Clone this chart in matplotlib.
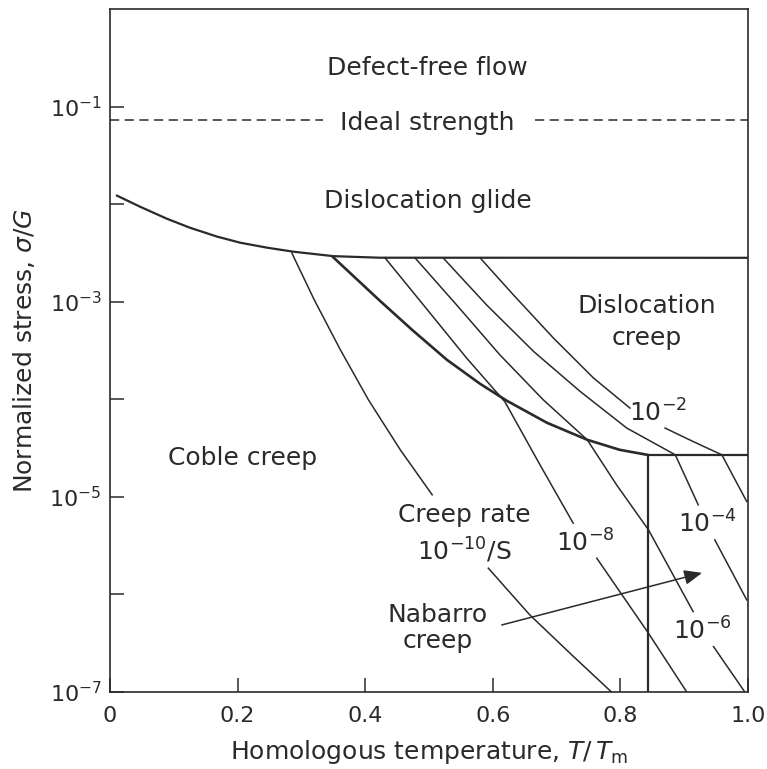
import matplotlib.pyplot as plt
import numpy as np
from matplotlib.ticker import FixedLocator, FixedFormatter, NullLocator

INK = '#2a2a2a'
nan = np.nan

# boundaries, x = T/Tm, y = log10(sigma/G)
ideal_logs = -1.133

glide_T = [0.011, 0.047, 0.089, 0.125, 0.168, 0.204, 0.246, 0.287, 0.350, 0.423, 1.0]
glide_logs = [-1.913, -2.026, -2.149, -2.241, -2.333, -2.395, -2.446, -2.487, -2.533, -2.549, -2.550]

coble_T = [0.350, 0.423, 0.475, 0.528, 0.580, 0.622, 0.685, 0.748, 0.799, 0.842]
coble_logs = [-2.545, -2.990, -3.297, -3.595, -3.841, -4.015, -4.241, -4.415, -4.518, -4.569]

nabarro_T = 0.844
nabarro_logs = -4.569

# creep-rate contours (nan = gap left for the label)
r10_T = [0.285, 0.320, 0.361, 0.405, 0.455, 0.505, nan, 0.593, 0.658, 0.724, 0.786]
r10_logs = [-2.501, -2.979, -3.492, -4.005, -4.518, -4.979, nan, -5.731, -6.210, -6.621, -7.0]

r8_T = [0.431, 0.491, 0.559, 0.619, 0.674, 0.726, nan, 0.763, 0.844, 0.904]
r8_logs = [-2.550, -3.031, -3.578, -4.026, -4.672, -5.270, nan, -5.629, -6.398, -7.0]

r6_T = [0.478, 0.543, 0.611, 0.679, 0.748, 0.794, 0.844, 0.914, nan, 0.946, 0.995]
r6_logs = [-2.550, -3.031, -3.544, -4.005, -4.415, -4.877, -5.338, -6.176, nan, -6.535, -7.0]

r4_T = [0.522, 0.590, 0.664, 0.737, 0.810, 0.886, 0.922, nan, 0.948, 0.998]
r4_logs = [-2.550, -3.031, -3.510, -3.920, -4.295, -4.569, -5.082, nan, -5.441, -6.056]

r2_T = [0.580, 0.632, 0.695, 0.758, 0.815, nan, 0.870, 0.914, 0.959, 0.998]
r2_logs = [-2.550, -2.928, -3.372, -3.783, -4.090, nan, -4.295, -4.433, -4.569, -5.048]

ytick_vals = [1e-7, 1e-6, 1e-5, 1e-4, 1e-3, 1e-2, 1e-1]
ytick_labels = ['$10^{-7}$', '', '$10^{-5}$', '', '$10^{-3}$', '', '$10^{-1}$']
xtick_vals = [0, 0.2, 0.4, 0.6, 0.8, 1.0]
xtick_labels = ['0', '0.2', '0.4', '0.6', '0.8', '1.0']


def s(v):
    return 10.0 ** np.asarray(v, dtype=float)


fig = plt.figure(figsize=(7.67, 7.69), dpi=100)
ax = fig.add_axes([110 / 767, 77 / 769, 638 / 767, 683 / 769])
ax.set_yscale('log')
ax.set_xlim(0, 1)
ax.set_ylim(1e-7, 1)

# ideal strength, broken for its label
ideal = float(s(ideal_logs))
ax.hlines([ideal, ideal], [0, 0.666], [0.334, 1.0], colors=INK, lw=1.1,
          linestyles=(0, (6, 3.6)))

ax.plot(glide_T, s(glide_logs), color=INK, lw=1.6)
ax.plot(coble_T, s(coble_logs), color=INK, lw=1.9)
ax.plot([nabarro_T, 1.0], s([nabarro_logs, nabarro_logs]), color=INK, lw=1.6)
ax.vlines(nabarro_T, 1e-7, float(s(nabarro_logs)), colors=INK, lw=1.6)

for T, logs in [(r10_T, r10_logs), (r8_T, r8_logs), (r6_T, r6_logs),
                (r4_T, r4_logs), (r2_T, r2_logs)]:
    ax.plot(T, s(logs), color=INK, lw=1.1)

fs = 18
txt = dict(color=INK, ha='center', va='baseline')
ax.text(0.498, s(-0.672), 'Defect-free flow', fontsize=fs, **txt)
ax.text(0.498, s(-1.236), 'Ideal strength', fontsize=fs, **txt)
ax.text(0.498, s(-2.036), 'Dislocation glide', fontsize=fs, **txt)
ax.text(0.842, s(-3.113), 'Dislocation', fontsize=fs, **txt)
ax.text(0.842, s(-3.441), 'creep', fontsize=fs, **txt)
ax.text(0.207, s(-4.672), 'Coble creep', fontsize=fs, **txt)
ax.text(0.556, s(-5.256), 'Creep rate', fontsize=fs, **txt)
ax.text(0.556, s(-5.646), '$10^{-10}$/S', fontsize=fs, **txt)
ax.text(0.513, s(-6.282), 'Nabarro', fontsize=fs, **txt)
ax.text(0.513, s(-6.549), 'creep', fontsize=fs, **txt)
ax.text(0.745, s(-5.564), '$10^{-8}$', fontsize=fs, **txt)
ax.text(0.859, s(-4.231), '$10^{-2}$', fontsize=fs, **txt)
ax.text(0.936, s(-5.369), '$10^{-4}$', fontsize=fs, **txt)
ax.text(0.929, s(-6.467), '$10^{-6}$', fontsize=fs, **txt)

ax.annotate('', xy=(0.928, s(-5.779)), xytext=(0.614, s(-6.313)),
            arrowprops=dict(arrowstyle='-|>,head_length=0.6,head_width=0.25',
                            color=INK, lw=1.1, mutation_scale=18,
                            shrinkA=0, shrinkB=0))

ax.yaxis.set_major_locator(FixedLocator(ytick_vals))
ax.yaxis.set_major_formatter(FixedFormatter(ytick_labels))
ax.yaxis.set_minor_locator(NullLocator())
ax.set_xticks(xtick_vals)
ax.set_xticklabels(xtick_labels)
ax.tick_params(axis='both', direction='in', length=10, width=1.1, color=INK,
               labelcolor=INK, labelsize=16, top=False, right=False)
ax.tick_params(axis='x', pad=10)
ax.tick_params(axis='y', pad=6)

for sp in ax.spines.values():
    sp.set_color(INK)
    sp.set_linewidth(1.2)

ax.set_xlabel('Homologous temperature, $T/\\,T_{\\mathrm{m}}$', fontsize=18,
              color=INK, labelpad=9)
ax.set_ylabel('Normalized stress, $\\sigma/G$', fontsize=18, color=INK,
              labelpad=9)

fig.savefig('out.png', dpi=100)
